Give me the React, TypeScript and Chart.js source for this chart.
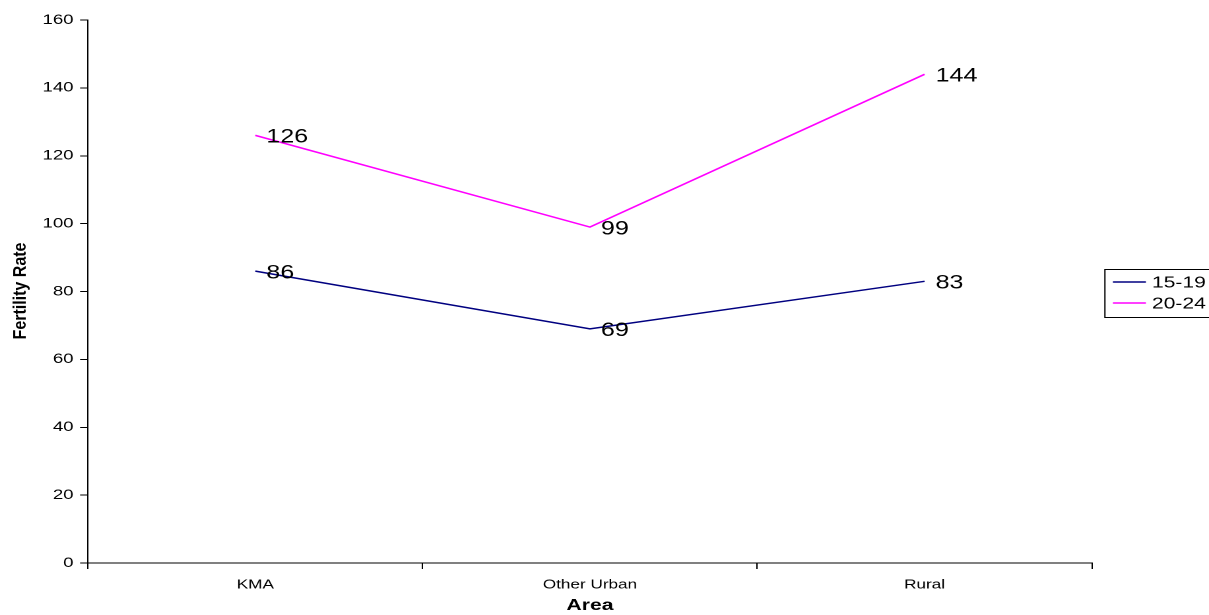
import React, { useEffect, useRef } from "react";
import { Chart, registerables } from "chart.js";

Chart.register(...registerables);

const categories = ["KMA", "Other Urban", "Rural"];
const series1519 = [86, 69, 83];
const series2024 = [126, 99, 144];
const seriesNames = ["15-19", "20-24"];
const seriesColors = ["#000080", "#FF00FF"];
const yTicks = [0, 20, 40, 60, 80, 100, 120, 140, 160];
const yTitle = "Fertility Rate";
const xTitle = "Area";

const FONT = "Arial, 'Liberation Sans', sans-serif";

// The reference text is horizontally stretched; draw on a narrower canvas and stretch it with CSS.
const OUT_W = 1209;
const OUT_H = 615;
const SX = 1.32;
const W = Math.round(OUT_W / SX);
const px = (v: number) => v / SX;

const valueLabelPlugin = {
  id: "valueLabels",
  afterDatasetsDraw(chart: any) {
    const ctx = chart.ctx;
    ctx.save();
    ctx.font = `19px ${FONT}`;
    ctx.fillStyle = "#000";
    ctx.textAlign = "left";
    ctx.textBaseline = "middle";
    chart.data.datasets.forEach((ds: any, i: number) => {
      const meta = chart.getDatasetMeta(i);
      meta.data.forEach((pt: any, j: number) => {
        ctx.fillText(String(ds.data[j]), pt.x + px(11), pt.y + 2);
      });
    });
    ctx.restore();
  },
};

const yTitlePlugin = {
  id: "yTitle",
  afterDraw(chart: any) {
    const ctx = chart.ctx;
    ctx.save();
    ctx.translate(px(21), 291);
    ctx.scale(1.13 / SX, 1);
    ctx.rotate(-Math.PI / 2);
    ctx.font = `bold 16px ${FONT}`;
    ctx.fillStyle = "#000";
    ctx.textAlign = "center";
    ctx.textBaseline = "middle";
    ctx.fillText(yTitle, 0, 0);
    ctx.restore();
  },
};

const boxLegendPlugin = {
  id: "boxLegend",
  afterDraw(chart: any) {
    const ctx = chart.ctx;
    const left = px(1105);
    const top = 269;
    const rowH = 21;
    ctx.save();
    ctx.strokeStyle = "#000";
    ctx.lineWidth = 1;
    ctx.strokeRect(left, top + 0.5, 200, 48);
    ctx.font = `16px ${FONT}`;
    ctx.textBaseline = "middle";
    ctx.textAlign = "left";
    seriesNames.forEach((name, i) => {
      const y = 282 + i * rowH;
      ctx.strokeStyle = seriesColors[i];
      ctx.lineWidth = 1.5;
      ctx.beginPath();
      ctx.moveTo(px(1113), y);
      ctx.lineTo(px(1146), y);
      ctx.stroke();
      ctx.fillStyle = "#000";
      ctx.fillText(name, px(1152), y + 1);
    });
    ctx.restore();
  },
};

export default function App() {
  const ref = useRef<HTMLCanvasElement>(null);
  useEffect(() => {
    if (!ref.current) return;
    const chart = new Chart(ref.current, {
      type: "line",
      data: {
        labels: categories,
        datasets: [
          {
            label: seriesNames[0],
            data: series1519,
            borderColor: seriesColors[0],
            backgroundColor: seriesColors[0],
            borderWidth: 1.5,
            pointRadius: 0,
            tension: 0,
          },
          {
            label: seriesNames[1],
            data: series2024,
            borderColor: seriesColors[1],
            backgroundColor: seriesColors[1],
            borderWidth: 1.5,
            pointRadius: 0,
            tension: 0,
          },
        ],
      },
      options: {
        animation: false,
        responsive: false,
        maintainAspectRatio: false,
        devicePixelRatio: 2,
        layout: { padding: { top: 20, right: W - px(1092), left: 0, bottom: 0 } },
        plugins: {
          legend: { display: false },
          tooltip: { enabled: false },
        },
        scales: {
          x: {
            type: "category",
            offset: true,
            grid: {
              offset: true,
              drawOnChartArea: false,
              drawTicks: true,
              tickLength: 6,
              color: "#000",
            },
            border: { display: true, color: "#000", width: 1 },
            ticks: {
              color: "#000",
              font: { size: 13, family: FONT },
              padding: 8,
              maxRotation: 0,
            },
            title: {
              display: true,
              text: xTitle,
              color: "#000",
              font: { size: 16, weight: "bold", family: FONT },
              padding: { top: 0, bottom: 0 },
            },
            afterFit(scale: any) {
              scale.height = 52;
            },
          },
          y: {
            min: 0,
            max: 160,
            afterBuildTicks(scale: any) {
              scale.ticks = yTicks.map((v) => ({ value: v }));
            },
            grid: {
              drawOnChartArea: false,
              drawTicks: true,
              tickLength: 6,
              color: "#000",
            },
            border: { display: true, color: "#000", width: 1 },
            ticks: {
              color: "#000",
              font: { size: 14, family: FONT },
              padding: 5,
            },
            title: { display: false },
            afterFit(scale: any) {
              scale.width = px(88);
            },
          },
        },
      },
      plugins: [valueLabelPlugin, yTitlePlugin, boxLegendPlugin],
    });
    return () => chart.destroy();
  }, []);
  return (
    <div style={{ position: "absolute", left: 0, top: 0, width: OUT_W, height: OUT_H, background: "#fff", overflow: "hidden" }}>
      <canvas
        ref={ref}
        width={W}
        height={OUT_H}
        style={{ width: OUT_W, height: OUT_H, display: "block" }}
      />
    </div>
  );
}
